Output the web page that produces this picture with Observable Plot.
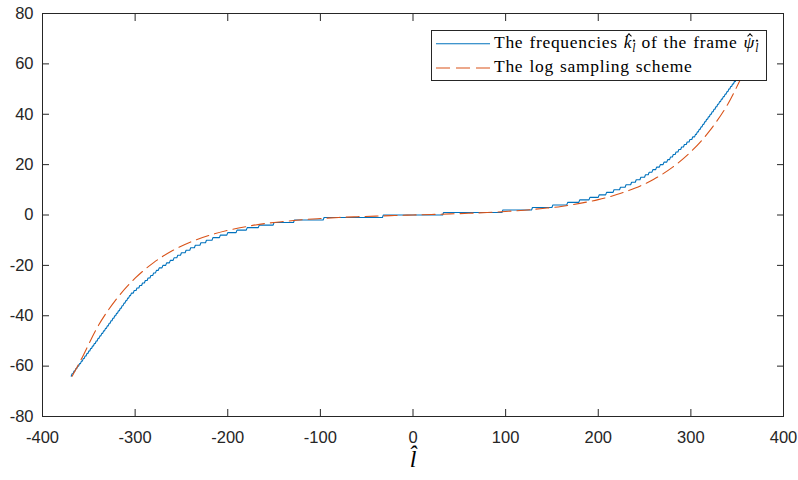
<!DOCTYPE html>
<html><head><meta charset="utf-8">
<script src="https://cdn.jsdelivr.net/npm/d3@7"></script>
<script src="https://cdn.jsdelivr.net/npm/@observablehq/plot@0.6"></script>
<style>
body{margin:0;background:#fff;}
#wrap{position:relative;width:798px;height:480px;overflow:hidden;}
#legend{position:absolute;left:431px;top:30px;width:336px;height:51px;box-sizing:border-box;border:1px solid #262626;background:#fff;font-family:"Liberation Serif",serif;font-size:17.5px;color:#000;}
#legend .row{position:absolute;left:62px;white-space:nowrap;line-height:17px;letter-spacing:0.7px;word-spacing:1px;}
#legend .sub{font-size:11.5px;position:relative;top:4px;letter-spacing:0;}
#legend .acc{position:relative;display:inline-block;font-style:italic;}
#legend .hat{position:absolute;left:58%;top:-0.02em;width:0.2em;height:0.2em;border-left:1px solid #000;border-top:1px solid #000;transform:translateX(-50%) rotate(45deg);box-sizing:border-box;}
#legend svg{position:absolute;left:0;top:0;}
</style></head>
<body><div id="wrap"></div>
<script>
// Blue series: frequency level k and the first index l where it starts (positive half; negative half mirrors it)
const kLevels = [1,2,3,4,5,6,7,8,9,10,11,12,13,14,15,16,17,18,19,20,21,22,23,24,25,26,27,28,29,30,31,32,
  33,34,35,36,37,38,39,40,41,42,43,44,45,46,47,48,49,50,51,52,53,54,55,56,57,58,59,60,61,62,63,64];
const kStartL = [33,97,129,151,167,180,191,201,209,217,224,230,236,241,246,251,255,259,263,267,271,275,278,281,284,287,290,293,296,299,302,305,
  307,309,311,313,315,317,319,321,323,325,327,329,331,333,335,337,339,341,343,345,347,349,351,353,355,357,359,361,363,365,367,369];
const lastL = 369;

// Orange series: the log sampling scheme
const logL = [-368,-360,-340,-320,-300,-280,-260,-240,-220,-200,-180,-160,-140,-120,-100,-80,-60,-40,-20,0,
  20,40,60,80,100,120,140,160,180,200,220,240,260,280,300,320,340,360,368];
const logK = [-64,-58.6,-44.1,-33.3,-25.1,-18.9,-14.2,-10.7,-8.1,-6.1,-4.6,-3.4,-2.6,-1.9,-1.4,-0.97,-0.68,-0.43,-0.21,0,
  0.21,0.43,0.68,0.97,1.4,1.9,2.6,3.4,4.6,6.1,8.1,10.7,14.2,18.9,25.1,33.3,44.1,58.6,64];

const xTicks = [-400,-300,-200,-100,0,100,200,300,400];
const yTicks = [-80,-60,-40,-20,0,20,40,60,80];
const xLabel = ["l\u0302"];
const legendLabels = ["The frequencies", "of the frame", "The log sampling scheme"];

// build the blue step polyline from the run table (each level held from its start to the next start - 1)
const runEnd = kStartL.map((s, i) => i < kStartL.length - 1 ? kStartL[i + 1] - 1 : lastL);
const blue = [];
for (let i = kLevels.length - 1; i >= 0; i--) {
  blue.push({l: -runEnd[i], k: -kLevels[i]}, {l: -kStartL[i], k: -kLevels[i]});
}
blue.push({l: -(kStartL[0] - 1), k: 0}, {l: kStartL[0] - 1, k: 0});
for (let i = 0; i < kLevels.length; i++) {
  blue.push({l: kStartL[i], k: kLevels[i]}, {l: runEnd[i], k: kLevels[i]});
}
const logPts = logL.map((l, i) => ({l, k: logK[i]}));

const axisColor = "#262626";
const tickFont = "'Liberation Sans', Arial, sans-serif";
const fmt = d => String(d);
const chart = Plot.plot({
  width: 798, height: 480,
  marginLeft: 42, marginRight: 15, marginTop: 13, marginBottom: 64,
  style: {fontFamily: tickFont, fontSize: "16.5px", background: "#fff", color: axisColor},
  x: {domain: [-400, 400], label: null},
  y: {domain: [-80, 80], label: null},
  marks: [
    Plot.line(blue, {x: "l", y: "k", stroke: "#0072BD", strokeWidth: 1.1}),
    Plot.line(logPts, {x: "l", y: "k", stroke: "#D95319", strokeWidth: 1.1, strokeDasharray: "13,6", curve: "monotone-x"}),
    Plot.frame({stroke: axisColor}),
    Plot.axisX(xTicks, {anchor: "bottom", tickSize: -7, tickPadding: 22, tickFormat: fmt, color: axisColor, fontFamily: tickFont, fontSize: 16.5, label: null}),
    Plot.axisX(xTicks, {anchor: "top", tickSize: -7, tickFormat: () => "", color: axisColor, label: null}),
    Plot.axisY(yTicks, {anchor: "left", tickSize: -7, tickPadding: 16, tickFormat: fmt, color: axisColor, fontFamily: tickFont, fontSize: 16.5, label: null}),
    Plot.axisY(yTicks, {anchor: "right", tickSize: -7, tickFormat: () => "", color: axisColor, label: null}),
    Plot.text(xLabel, {text: d => d, frameAnchor: "bottom", dy: 50, fontFamily: "'Liberation Serif', serif", fontStyle: "italic", fontSize: 24, fill: "#000"})
  ]
});
const wrap = document.getElementById("wrap");
wrap.appendChild(chart);

const hatted = c => `<span class="acc">${c}<span class="hat"></span></span>`;
const subL = `<span class="sub">${hatted("l")}</span>`;
const legend = document.createElement("div");
legend.id = "legend";
legend.innerHTML = `
<svg width="60" height="49">
  <line x1="4" x2="58" y1="12.7" y2="12.7" stroke="#0072BD" stroke-width="1.1"/>
  <line x1="4" x2="58" y1="37" y2="37" stroke="#D95319" stroke-width="1.1" stroke-dasharray="14,6"/>
</svg>
<div class="row" style="top:3.4px">${legendLabels[0]} ${hatted("k")}${subL} ${legendLabels[1]} ${hatted("\u03C8")}${subL}</div>
<div class="row" style="top:26.8px">${legendLabels[2]}</div>`;
wrap.appendChild(legend);
</script>
</body></html>
